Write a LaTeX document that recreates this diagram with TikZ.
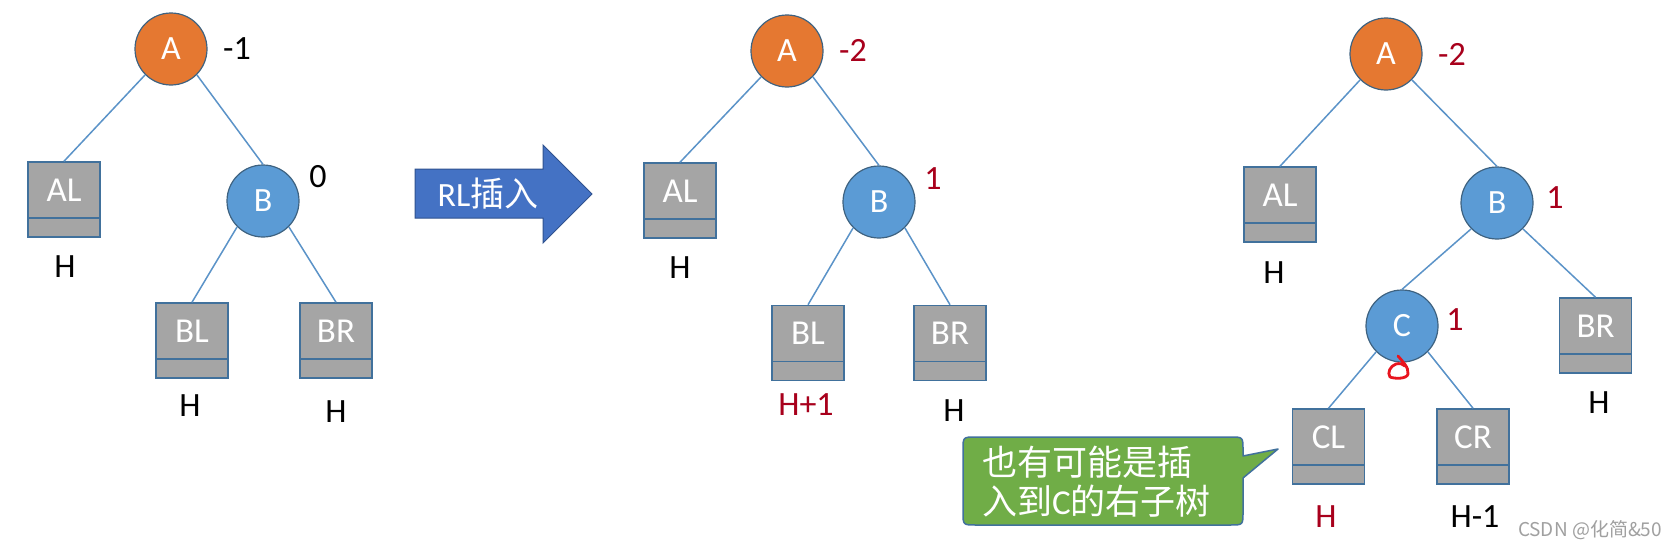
\documentclass[tikz,border=0pt]{standalone}
\usepackage{fontspec}
\setmainfont{Carlito}
\newfontfamily\cjk{Noto Sans CJK SC}
\definecolor{aorange}{HTML}{E57831}
\definecolor{bblue}{HTML}{5B9BD5}
\definecolor{cborder}{HTML}{3E6280}
\definecolor{boxgray}{HTML}{A5A5A5}
\definecolor{boxedge}{HTML}{41719C}
\definecolor{linkblue}{HTML}{5B93C8}
\definecolor{darkred}{HTML}{A8001C}
\definecolor{markred}{HTML}{E8141E}
\definecolor{arrowfill}{HTML}{4472C4}
\definecolor{arrowedge}{HTML}{2F528F}
\definecolor{notegreen}{HTML}{70AD47}
\definecolor{noteedge}{HTML}{41719C}
\definecolor{wmgray}{HTML}{A0A0A0}
\begin{document}
\begin{tikzpicture}[x=1pt,y=-1pt,
  circ/.style={circle,draw=cborder,line width=1.2pt,minimum size=72pt,inner sep=0pt,text=white,font=\fontsize{34}{34}\selectfont},
  anode/.style={circ,fill=aorange},
  bnode/.style={circ,fill=bblue},
  tbox/.style={rectangle,draw=boxedge,line width=1.5pt,fill=boxgray,minimum width=72pt,minimum height=75pt,inner sep=0pt,text=white,font=\fontsize{35}{35}\selectfont,text depth=19pt,
    path picture={\draw[boxedge,line width=1.5pt] ([yshift=19pt]path picture bounding box.south west) -- ([yshift=19pt]path picture bounding box.south east);}},
  lbl/.style={font=\fontsize{34}{34}\selectfont,inner sep=0pt},
  rlbl/.style={lbl,text=darkred},
  conn/.style={draw=linkblue,line width=1.5pt},
]
\fill[white] (0,0) rectangle (1662,546);
\useasboundingbox (0,0) rectangle (1662,546);

% ---------- tree 1 ----------
\node[anode] (A1) at (171,49) {A};
\node[tbox] (AL1) at (64,199.5) {AL};
\node[bnode] (B1) at (263,201) {B};
\node[tbox] (BL1) at (192,340.5) {BL};
\node[tbox] (BR1) at (336,340.5) {BR};
\node[lbl] (fA1) at (237,49) {-1};
\node[lbl] (fB1) at (318,177) {0};
\node[lbl] (hAL1) at (65,267) {H};
\node[lbl] (hBL1) at (190,406) {H};
\node[lbl] (hBR1) at (336,412) {H};
\draw[conn] (A1.south west) -- (AL1.north);
\draw[conn] (A1.south east) -- (B1.north);
\draw[conn] (B1.south west) -- (BL1.north);
\draw[conn] (B1.south east) -- (BR1.north);

% ---------- arrow ----------
\draw[fill=arrowfill,draw=arrowedge,line width=1pt] (415,169) -- (543,169) -- (543,145) -- (592,194) -- (543,243) -- (543,218) -- (415,218) -- cycle;
\node[text=white,inner sep=0pt,font=\fontsize{34}{34}\selectfont] (rl) at (488,194) {RL{\cjk 插入}};

% ---------- tree 2 ----------
\node[anode] (A2) at (787,51) {A};
\node[tbox] (AL2) at (680,200.5) {AL};
\node[bnode] (B2) at (879,202) {B};
\node[tbox] (BL2) at (808,343) {BL};
\node[tbox] (BR2) at (950,343) {BR};
\node[rlbl] (fA2) at (853,50) {-2};
\node[rlbl] (fB2) at (933,179) {1};
\node[lbl] (hAL2) at (680,268) {H};
\node[rlbl] (hBL2) at (806,405) {H+1};
\node[lbl] (hBR2) at (954,411) {H};
\draw[conn] (A2.south west) -- (AL2.north);
\draw[conn] (A2.south east) -- (B2.north);
\draw[conn] (B2.south west) -- (BL2.north);
\draw[conn] (B2.south east) -- (BR2.north);

% ---------- tree 3 ----------
\node[anode] (A3) at (1386,54) {A};
\node[tbox] (AL3) at (1280,204.5) {AL};
\node[bnode] (B3) at (1497,203) {B};
\node[bnode] (C3) at (1402,326) {C};
\node[tbox] (BR3) at (1595.5,335.5) {BR};
\node[tbox] (CL3) at (1328.5,446.5) {CL};
\node[tbox] (CR3) at (1473,446.5) {CR};
\node[rlbl] (fA3) at (1452,54) {-2};
\node[rlbl] (fB3) at (1555,198) {1};
\node[rlbl] (fC3) at (1455,320) {1};
\node[lbl] (hAL3) at (1274,273) {H};
\node[lbl] (hBR3) at (1599,403) {H};
\node[rlbl] (hCL3) at (1326,517) {H};
\node[lbl] (hCR3) at (1475,517) {H-1};
\draw[conn] (A3.south west) -- (AL3.north);
\draw[conn] (A3.south east) -- (B3.north);
\draw[conn] (B3.south west) -- (C3.north);
\draw[conn] (B3.south east) -- (BR3.north);
\draw[conn] (C3.south west) -- (CL3.north);
\draw[conn] (C3.south east) -- (CR3.north);

% red hand mark under C
\draw[markred,line width=2.8pt,line cap=round,line join=round] (1398,356) .. controls (1402,361) and (1409,367) .. (1408,374) .. controls (1407,379) and (1395,379) .. (1390,377) .. controls (1387,373) and (1390,366) .. (1396,364) .. controls (1400,363) and (1403,364) .. (1405,366);

% ---------- callout ----------
\draw[fill=notegreen,draw=noteedge,line width=1.5pt,line join=round] (963,450) .. controls (963,437) .. (976,437) -- (1230,437) .. controls (1243,437) .. (1243,450) -- (1243,456) -- (1278,449) -- (1243,478) -- (1243,512) .. controls (1243,525) .. (1230,525) -- (976,525) .. controls (963,525) .. (963,512) -- cycle;
\node[anchor=west,text=white,inner sep=0pt,align=left,font=\fontsize{35}{39}\selectfont] (note) at (982,482) {{\cjk 也有可能是插}\\{\cjk 入到}C{\cjk 的右子树}};

% watermark
\node[text=wmgray,inner sep=0pt,font=\fontsize{19}{19}\selectfont] (wm) at (1590,530) {\cjk CSDN @化简\&50};
\end{tikzpicture}
\end{document}
